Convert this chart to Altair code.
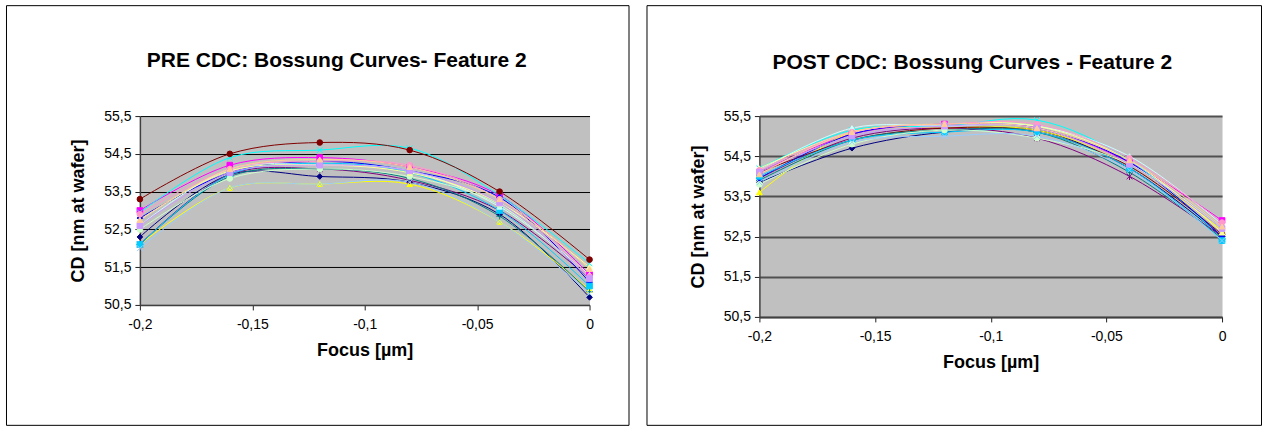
import altair as alt
import pandas as pd

# Focus positions (x) shared by every series
focus = [-0.2, -0.16, -0.12, -0.08, -0.04, 0.0]

# Axis tick values
x_ticks = [-0.2, -0.15, -0.1, -0.05, 0.0]
y_ticks = [50.5, 51.5, 52.5, 53.5, 54.5, 55.5]

series_names = ["S01", "S02", "S03", "S04", "S05", "S06", "S07", "S08",
                "S09", "S10", "S11", "S12", "S13", "S14", "S15", "S16"]
series_colors = ["#000080", "#FF00FF", "#FFFF00", "#00FFFF", "#800080", "#800000",
                 "#008080", "#0000FF", "#00CCFF", "#CCFFFF", "#CCFFCC", "#FFFF99",
                 "#99CCFF", "#FF99CC", "#CC99FF", "#FFCC99"]
X_PATH = "M-1,-1L1,1M-1,1L1,-1"
STAR_PATH = "M-1,-1L1,1M-1,1L1,-1M0,-1.3L0,1.3"
PLUS_PATH = "M-1.2,0L1.2,0M0,-1.2L0,1.2"
series_shapes = ["diamond", "square", "triangle-up", X_PATH, STAR_PATH, "circle",
                 PLUS_PATH, "diamond", "square", "triangle-up", "circle", "triangle-up",
                 X_PATH, "circle", "square", "triangle-up"]

# PRE CDC values (CD in nm) per series
pre_s01 = [52.3, 53.95, 53.9, 53.75, 52.9, 50.7]
pre_s02 = [53.0, 54.2, 54.4, 54.15, 53.4, 51.3]
pre_s03 = [52.1, 53.6, 53.7, 53.7, 52.7, 50.9]
pre_s04 = [52.95, 54.4, 54.6, 54.65, 53.4, 51.6]
pre_s05 = [52.1, 53.95, 54.1, 53.8, 53.0, 51.2]
pre_s06 = [53.3, 54.5, 54.8, 54.6, 53.5, 51.7]
pre_s07 = [52.1, 53.9, 54.1, 53.85, 52.85, 50.85]
pre_s08 = [52.8, 54.0, 54.3, 54.05, 53.35, 51.1]
pre_s09 = [52.1, 53.95, 54.25, 54.0, 53.0, 51.0]
pre_s10 = [52.6, 54.1, 54.2, 54.05, 53.1, 51.3]
pre_s11 = [52.5, 53.85, 54.1, 53.9, 53.15, 51.2]
pre_s12 = [52.75, 54.05, 54.2, 54.0, 53.2, 51.5]
pre_s13 = [52.0, 53.6, 53.7, 53.75, 52.7, 50.8]
pre_s14 = [52.9, 54.1, 54.3, 54.2, 53.3, 51.25]
pre_s15 = [52.6, 54.0, 54.2, 54.05, 53.2, 51.2]
pre_s16 = [52.75, 54.1, 54.35, 54.15, 53.3, 51.45]

# POST CDC values (CD in nm) per series
post_s01 = [53.85, 54.7, 55.1, 55.15, 54.2, 52.5]
post_s02 = [54.1, 55.05, 55.3, 55.2, 54.35, 52.9]
post_s03 = [53.6, 55.1, 55.2, 55.15, 54.3, 52.65]
post_s04 = [54.2, 55.15, 55.25, 55.4, 54.4, 52.45]
post_s05 = [53.95, 54.95, 55.2, 54.95, 54.0, 52.5]
post_s06 = [54.1, 54.9, 55.2, 55.1, 54.25, 52.55]
post_s07 = [53.9, 54.9, 55.15, 55.1, 54.1, 52.45]
post_s08 = [53.95, 55.05, 55.3, 55.2, 54.35, 52.5]
post_s09 = [54.0, 54.9, 55.1, 55.1, 54.2, 52.4]
post_s10 = [54.15, 55.2, 55.25, 55.25, 54.5, 52.8]
post_s11 = [53.8, 54.8, 55.15, 54.95, 54.3, 52.7]
post_s12 = [54.2, 55.1, 55.3, 55.25, 54.4, 52.6]
post_s13 = [53.85, 54.85, 55.0, 55.0, 54.15, 52.4]
post_s14 = [54.15, 55.1, 55.3, 55.3, 54.45, 52.85]
post_s15 = [54.1, 55.0, 55.25, 55.2, 54.3, 52.7]
post_s16 = [54.05, 55.1, 55.3, 55.2, 54.4, 52.75]

pre_rows = [pre_s01, pre_s02, pre_s03, pre_s04, pre_s05, pre_s06, pre_s07, pre_s08,
            pre_s09, pre_s10, pre_s11, pre_s12, pre_s13, pre_s14, pre_s15, pre_s16]
post_rows = [post_s01, post_s02, post_s03, post_s04, post_s05, post_s06, post_s07, post_s08,
             post_s09, post_s10, post_s11, post_s12, post_s13, post_s14, post_s15, post_s16]


def long_table(rows):
    recs = []
    for name, vals in zip(series_names, rows):
        for f, v in zip(focus, vals):
            recs.append({"series": name, "focus": f, "cd": v})
    return pd.DataFrame(recs)


FONT = "Liberation Sans"
color_scale = alt.Scale(domain=series_names, range=series_colors)
shape_scale = alt.Scale(domain=series_names, range=series_shapes)


def panel(df, title, width, height, title_pos, grid_color, grid_width, frame):
    x = alt.X(
        "focus:Q",
        scale=alt.Scale(domain=[-0.2, 0.0], nice=False, zero=False),
        axis=alt.Axis(
            values=x_ticks,
            labelExpr="replace(toString(datum.value), '.', ',')",
            title="Focus [µm]",
            grid=False,
            labelFont=FONT, labelFontSize=14, labelColor="black",
            titleFont=FONT, titleFontSize=18, titleFontWeight="bold", titleColor="black",
            domainColor="#404040", domainWidth=1.5,
            tickColor="#202020", tickSize=5, labelPadding=8, titlePadding=10,
            labelFlush=False,
        ),
    )
    y = alt.Y(
        "cd:Q",
        scale=alt.Scale(domain=[50.5, 55.5], nice=False, zero=False),
        axis=alt.Axis(
            values=y_ticks,
            labelExpr="replace(format(datum.value, '.1f'), '.', ',')",
            title="CD [nm at wafer]",
            grid=True, gridColor=grid_color, gridWidth=grid_width,
            labelFont=FONT, labelFontSize=14, labelColor="black",
            titleFont=FONT, titleFontSize=18, titleFontWeight="bold", titleColor="black",
            domainColor="#404040", domainWidth=1.5,
            tickColor="#202020", tickSize=5, labelPadding=4, titlePadding=16,
            labelFlush=False,
        ),
    )
    one = alt.Data(values=[{"k": 1}])
    box = alt.Chart(one).mark_rect(
        fillOpacity=0, stroke="black", strokeWidth=1
    ).encode(
        x=alt.value(frame[0]), x2=alt.value(frame[1]),
        y=alt.value(frame[2]), y2=alt.value(frame[3]),
    )
    heading = alt.Chart(one).mark_text(
        font=FONT, fontSize=21, fontWeight="bold", color="black",
        align="center", baseline="alphabetic",
    ).encode(
        x=alt.value(title_pos[0]), y=alt.value(title_pos[1]), text=alt.value(title),
    )
    lines = alt.Chart(df).mark_line(strokeWidth=1, interpolate="catmull-rom").encode(
        x=x, y=y,
        color=alt.Color("series:N", scale=color_scale, legend=None),
    )
    points = alt.Chart(df).mark_point(size=32, strokeWidth=1, opacity=1).encode(
        x=x, y=y,
        fill=alt.Fill("series:N", scale=color_scale, legend=None),
        stroke=alt.Stroke("series:N", scale=color_scale, legend=None),
        shape=alt.Shape("series:N", scale=shape_scale, legend=None),
    )
    return alt.layer(box, heading, lines, points).properties(width=width, height=height)


left = panel(long_table(pre_rows), "PRE CDC: Bossung Curves- Feature 2",
             450, 189, (197, -49), "#000000", 1, (-133.5, 489.5, -110.5, 309.5))
right = panel(long_table(post_rows), "POST CDC: Bossung Curves - Feature 2",
              463, 201, (213, -47), "#505050", 2, (-112.5, 502.5, -110.5, 309.5))

chart = alt.hconcat(left, right, spacing=170, bounds="flush").properties(
    padding={"left": 5, "top": 4, "right": 0, "bottom": 0},
    background="white",
).configure_view(fill="#C0C0C0", stroke="transparent")

chart.save("out.html", embed_options={"renderer": "svg", "actions": False})
